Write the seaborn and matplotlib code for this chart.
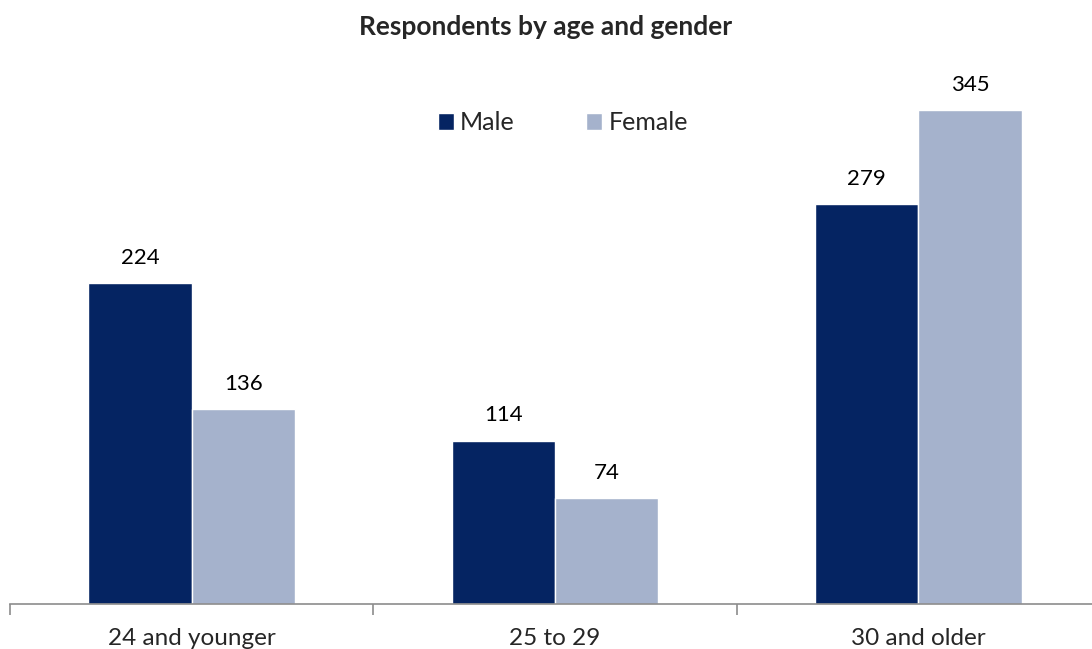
import matplotlib
matplotlib.use("Agg")
import matplotlib.pyplot as plt
import pandas as pd
import seaborn as sns
from matplotlib.patches import Patch

age_groups = ["24 and younger", "25 to 29", "30 and older"]
genders = ["Male", "Female"]
male = [224, 114, 279]
female = [136, 74, 345]

df = pd.DataFrame({
    "age": age_groups * 2,
    "gender": ["Male"] * 3 + ["Female"] * 3,
    "count": male + female,
})

colors = {"Male": "#052462", "Female": "#A5B2CC"}

sns.set_theme(style="white")
plt.rcParams["font.family"] = ["Lato", "DejaVu Sans"]

fig = plt.figure(figsize=(10.92, 6.49), dpi=100)
ax = fig.add_axes([10 / 1092, 45 / 649, 1090 / 1092, 573 / 649])

sns.barplot(data=df, x="age", y="count", hue="gender", order=age_groups,
            hue_order=genders, palette=colors, width=0.568, saturation=1,
            legend=False, ax=ax)

for c in ax.containers:
    ax.bar_label(c, padding=11, fontsize=16, color="black")

ax.set_xlim(-0.5, 2.5)
ax.set_ylim(0, 400)
ax.set_xlabel("")
ax.set_ylabel("")
ax.set_yticks([])
for s in ["top", "right", "left"]:
    ax.spines[s].set_visible(False)
ax.spines["bottom"].set_color("#8C8C8C")
ax.spines["bottom"].set_linewidth(1.2)

ax.set_xticks(range(3))
ax.set_xticklabels(age_groups, fontsize=17.5)
ax.tick_params(axis="x", which="major", length=0, pad=17)
ax.set_xticks([-0.5, 0.5, 1.5, 2.5], minor=True)
ax.tick_params(axis="x", which="minor", length=8, width=1.2,
               color="#8C8C8C", direction="out", bottom=True)

handles = [Patch(facecolor=colors[g], label=g) for g in genders]
fig.legend(handles=handles, loc="center", bbox_to_anchor=(563 / 1092, 1 - 123 / 649),
           ncol=2, frameon=False, fontsize=18, handlelength=0.65,
           handleheight=0.65, handletextpad=0.25, columnspacing=2.85)

fig.text(0.5, 1 - 27 / 649, "Respondents by age and gender", ha="center",
         va="center", fontsize=19, fontweight="bold")

fig.savefig("out.png", dpi=100)
